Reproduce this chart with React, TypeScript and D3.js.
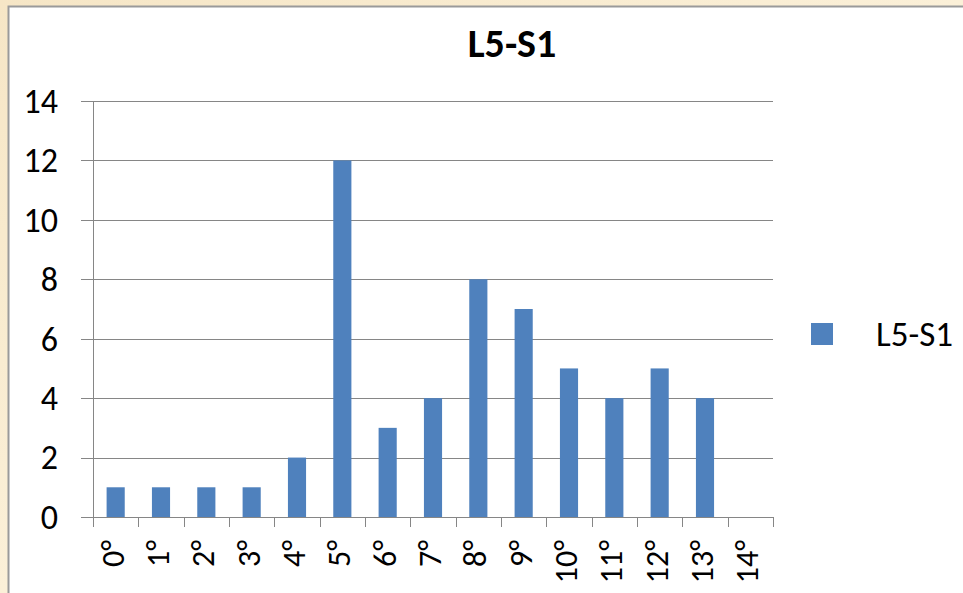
import * as d3 from 'd3'

const categories = ['0°', '1°', '2°', '3°', '4°', '5°', '6°', '7°', '8°', '9°', '10°', '11°', '12°', '13°', '14°']
const values = [1, 1, 1, 1, 2, 12, 3, 4, 8, 7, 5, 4, 5, 4, 0]
const yTicks = [0, 2, 4, 6, 8, 10, 12, 14]
const seriesName = 'L5-S1'

export default function App() {
  const width = 963
  const height = 593
  const margin = { top: 101, right: 190, bottom: 76, left: 93 }
  const font = 'Carlito, "Liberation Sans", Arial, sans-serif'
  const grid = '#868686'
  const barColor = '#4F81BD'

  const x = d3.scaleBand().domain(categories).range([margin.left, width - margin.right]).paddingInner(0.6).paddingOuter(0.3)
  const y = d3.scaleLinear().domain([0, 14]).range([height - margin.bottom, margin.top])
  const step = x.step()
  const x0 = margin.left
  const x1 = width - margin.right
  const y0 = y(0)

  return (
    <svg width={width} height={height} style={{ position: 'absolute', left: 0, top: 0 }} fontFamily={font}>
      <defs>
        <linearGradient id="bg" x1="0" y1="0" x2="1" y2="1">
          <stop offset="0" stopColor="#F6E6C6" />
          <stop offset="0.5" stopColor="#FBF0D8" />
          <stop offset="1" stopColor="#F5E4C2" />
        </linearGradient>
      </defs>
      <rect x={0} y={0} width={width} height={height} fill="url(#bg)" />
      <rect x={8.5} y={6.5} width={width + 10} height={height + 10} fill="#fff" stroke="#9a9a9a" strokeWidth={2} />

      <text x={512} y={57} textAnchor="middle" fontSize={40} fontWeight="bold" fill="#000">{seriesName}</text>

      {/* gridlines + y ticks */}
      {yTicks.map(t => (
        <g key={t}>
          <line x1={x0 - 12} x2={x1} y1={Math.round(y(t)) + 0.5} y2={Math.round(y(t)) + 0.5} stroke={grid} strokeWidth={1} />
          <text x={x0 - 35} y={y(t)} dy="0.35em" textAnchor="end" fontSize={34} fill="#000">{t}</text>
        </g>
      ))}

      {/* bars */}
      {values.map((v, i) => (
        <rect key={categories[i]} x={x(categories[i])} y={y(v)} width={x.bandwidth()} height={y0 - y(v)} fill={barColor} />
      ))}

      {/* y axis */}
      <line x1={x0 + 0.5} x2={x0 + 0.5} y1={margin.top} y2={y0 + 10} stroke={grid} />
      {/* x axis */}
      <line x1={x0} x2={x1} y1={Math.round(y0) + 0.5} y2={Math.round(y0) + 0.5} stroke={grid} />
      {categories.map((c, i) => (
        <line key={'t' + c} x1={Math.round(x0 + (i + 1) * step) + 0.5} x2={Math.round(x0 + (i + 1) * step) + 0.5} y1={y0} y2={y0 + 10} stroke={grid} />
      ))}
      {categories.map(c => {
        const cx = (x(c) ?? 0) + x.bandwidth() / 2
        return (
          <text key={'l' + c} transform={`translate(${cx + 8},${y0 + 23}) rotate(-90)`} textAnchor="end" fontSize={32} fill="#000">{c}</text>
        )
      })}

      {/* legend */}
      <rect x={811} y={323} width={22} height={22} fill={barColor} />
      <text x={876} y={334} dy="0.35em" fontSize={35} fill="#000">{seriesName}</text>
    </svg>
  )
}
